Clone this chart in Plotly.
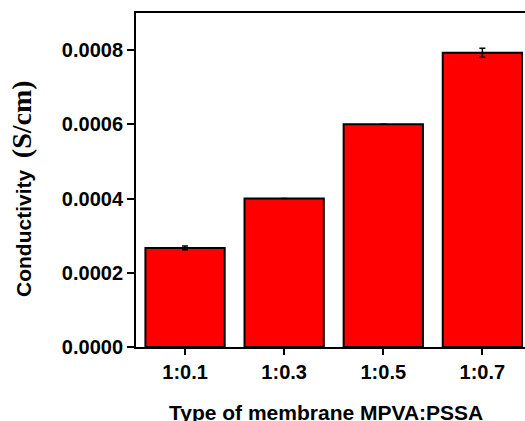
import plotly.graph_objects as go

categories = ["1:0.1", "1:0.3", "1:0.5", "1:0.7"]
conductivity = [0.000267, 0.000400, 0.000600, 0.000793]
errors = [0.000005, None, None, 0.000012]
y_ticks = [0.0, 0.0002, 0.0004, 0.0006, 0.0008]
y_tick_labels = ["0.0000", "0.0002", "0.0004", "0.0006", "0.0008"]

fig = go.Figure()
fig.add_trace(go.Bar(
    x=list(range(len(categories))),
    y=conductivity,
    width=0.8,
    marker=dict(color="#FF0000", line=dict(color="black", width=2)),
    error_y=dict(type="data", array=errors, visible=True, color="black", thickness=1.5, width=3),
))

font_ticks = dict(family="Liberation Sans, Arial", size=20, color="black")

fig.update_layout(
    width=525, height=421,
    margin=dict(l=136, r=0, t=13, b=74),
    paper_bgcolor="white", plot_bgcolor="white",
    showlegend=False,
    xaxis=dict(
        range=[-0.495, 3.43],
        tickmode="array", tickvals=list(range(len(categories))), ticktext=[f"<b>{c}</b>" for c in categories],
        ticks="outside", ticklen=6, tickwidth=2, tickcolor="black",
        showline=True, linecolor="black", linewidth=2, mirror=True,
        showgrid=False, zeroline=False, tickfont=font_ticks,
    ),
    yaxis=dict(
        range=[0, 0.0009],
        tickmode="array", tickvals=y_ticks, ticktext=[f"<b>{t}</b>" for t in y_tick_labels],
        ticks="outside", ticklen=7, tickwidth=2, tickcolor="black",
        showline=True, linecolor="black", linewidth=2, mirror=False,
        showgrid=False, zeroline=False, tickfont=font_ticks,
    ),
    annotations=[
        dict(
            text="<b>Conductivity</b>  <span style='font-family:Liberation Serif;font-size:28px'><b>(S/cm)</b></span>",
            xref="paper", yref="paper", x=(22 - 136) / 389, y=(347 - 189) / 334,
            xanchor="center", yanchor="middle", textangle=-90, showarrow=False,
            font=dict(family="Liberation Sans, Arial", size=21, color="black"),
        ),
        dict(
            text="<b>Type of membrane MPVA:PSSA</b>",
            xref="paper", yref="paper", x=0.488, y=(347 - 412) / 334,
            xanchor="center", yanchor="middle", showarrow=False,
            font=dict(family="Liberation Sans, Arial", size=21, color="black"),
        ),
    ],
)

fig.write_html("out.html")
